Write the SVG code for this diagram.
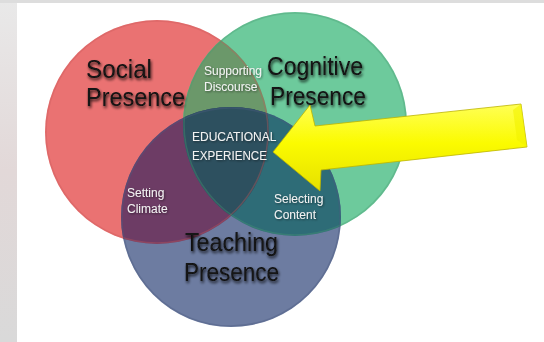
<svg xmlns="http://www.w3.org/2000/svg" width="544" height="342" viewBox="0 0 544 342">
<style>
.big{font-family:"Liberation Sans",Arial,sans-serif;font-size:25px;fill:#121212;filter:url(#sh)}
.small{font-family:"Liberation Sans",Arial,sans-serif;font-size:12px;fill:#f2f2f2;filter:url(#sh2)}
.rim{fill:none;stroke-width:1.5}
</style>
<defs>
<linearGradient id="side" x1="0" y1="0" x2="0" y2="1">
<stop offset="0" stop-color="#e9e9e9"/>
<stop offset="0.5" stop-color="#e2d8d8"/>
<stop offset="1" stop-color="#d9d9d9"/>
</linearGradient>
<linearGradient id="yel" x1="0" y1="0" x2="0" y2="1">
<stop offset="0" stop-color="#ffff55"/>
<stop offset="0.45" stop-color="#fbfb00"/>
<stop offset="1" stop-color="#e6e000"/>
</linearGradient>
<filter id="sh" x="-10%" y="-20%" width="120%" height="150%">
<feGaussianBlur in="SourceAlpha" stdDeviation="1.8"/>
<feOffset dx="1" dy="2" result="b"/>
<feComponentTransfer><feFuncA type="linear" slope="0.85"/></feComponentTransfer>
<feMerge><feMergeNode/><feMergeNode in="SourceGraphic"/></feMerge>
</filter>
<filter id="sh2" x="-10%" y="-20%" width="120%" height="150%">
<feGaussianBlur in="SourceAlpha" stdDeviation="0.8"/>
<feOffset dx="0.5" dy="1"/>
<feComponentTransfer><feFuncA type="linear" slope="0.5"/></feComponentTransfer>
<feMerge><feMergeNode/><feMergeNode in="SourceGraphic"/></feMerge>
</filter>
<clipPath id="cR"><circle cx="157" cy="132" r="112"/></clipPath>
<clipPath id="cG"><circle cx="295" cy="124" r="112"/></clipPath>
</defs>

<rect x="0" y="0" width="544" height="342" fill="#ffffff"/>
<rect x="0" y="0" width="17" height="342" fill="url(#side)"/>
<rect x="0" y="0" width="544" height="3" fill="#dddddd"/>

<g id="social">
<circle cx="157" cy="132" r="112" fill="#ea7272"/>
</g>
<g id="cognitive">
<circle cx="295" cy="124" r="112" fill="#6dca9c"/>
</g>
<g id="teaching">
<circle cx="231" cy="217" r="110" fill="#6d7ca1"/>
</g>

<g id="overlaps">
<circle cx="295" cy="124" r="112" fill="#6b986a" clip-path="url(#cR)"/>
<circle cx="231" cy="217" r="110" fill="#6d3c65" clip-path="url(#cR)"/>
<circle cx="231" cy="217" r="110" fill="#2e6c77" clip-path="url(#cG)"/>
<g clip-path="url(#cR)"><circle cx="231" cy="217" r="110" fill="#2d505f" clip-path="url(#cG)"/></g>
<circle class="rim" cx="157" cy="132" r="111" stroke="#c85a5a" stroke-opacity="0.35"/>
<circle class="rim" cx="295" cy="124" r="111" stroke="#4a9a74" stroke-opacity="0.35"/>
<circle class="rim" cx="231" cy="217" r="109" stroke="#4a5a80" stroke-opacity="0.4"/>
</g>

<g id="labels-big">
<text class="big" x="86" y="78" textLength="66" lengthAdjust="spacingAndGlyphs">Social</text>
<text class="big" x="86" y="106" textLength="99" lengthAdjust="spacingAndGlyphs">Presence</text>
<text class="big" x="267" y="75" textLength="96" lengthAdjust="spacingAndGlyphs">Cognitive</text>
<text class="big" x="270" y="105" textLength="96" lengthAdjust="spacingAndGlyphs">Presence</text>
<text class="big" x="185" y="251" textLength="93" lengthAdjust="spacingAndGlyphs">Teaching</text>
<text class="big" x="184" y="281" textLength="95" lengthAdjust="spacingAndGlyphs">Presence</text>
</g>

<g id="supporting-discourse">
<text class="small" x="204" y="75">Supporting</text>
<text class="small" x="204" y="91">Discourse</text>
</g>
<g id="educational-experience">
<text class="small" x="192" y="141">EDUCATIONAL</text>
<text class="small" x="192" y="160" textLength="75" lengthAdjust="spacingAndGlyphs">EXPERIENCE</text>
</g>
<g id="setting-climate">
<text class="small" x="127" y="197">Setting</text>
<text class="small" x="127" y="213">Climate</text>
</g>
<g id="selecting-content">
<text class="small" x="274" y="203">Selecting</text>
<text class="small" x="274" y="219">Content</text>
</g>

<g id="connectors">
<g id="arrow">
<polygon points="273,152 310,105 315,126 521,104 527,147 321,170 320,191" fill="url(#yel)" stroke="#bdb400" stroke-width="0.8" stroke-linejoin="round"/>
<polygon points="521,104 527,147 517,140 513,110" fill="#f2f200" opacity="0.6"/>
</g>
</g>
</svg>
